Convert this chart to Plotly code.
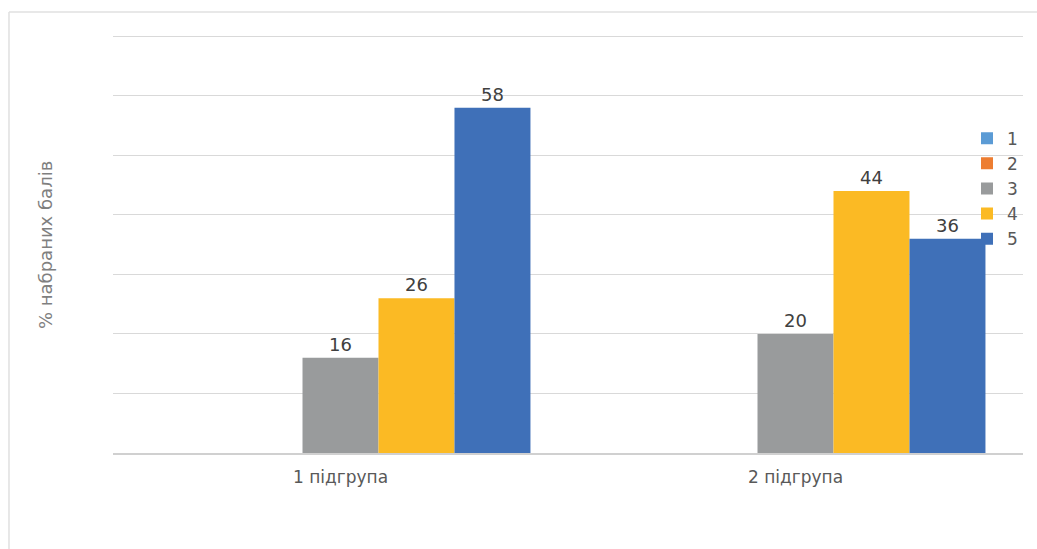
import plotly.graph_objects as go

categories = ["1 підгрупа", "2 підгрупа"]
series_names = ["1", "2", "3", "4", "5"]
values_1 = [None, None]
values_2 = [None, None]
values_3 = [16, 20]
values_4 = [26, 44]
values_5 = [58, 36]
colors = ["#5B9BD5", "#ED7D31", "#999B9C", "#FBBA24", "#3F70B8"]
y_title = "% набраних балів"

all_values = [values_1, values_2, values_3, values_4, values_5]

FONT = "DejaVu Sans"

fig = go.Figure()
for name, vals, col in zip(series_names, all_values, colors):
    fig.add_trace(go.Bar(
        x=categories, y=vals, name=name,
        marker=dict(color=col, line=dict(width=0)),
        text=[("" if v is None else str(v)) for v in vals],
        textposition="outside",
        textfont=dict(size=18, color="#404040", family=FONT),
        cliponaxis=False,
    ))

fig.update_layout(
    width=1037, height=549, autosize=False,
    margin=dict(l=113, r=14, t=35, b=96),
    paper_bgcolor="white", plot_bgcolor="white",
    barmode="group", bargap=0.165, bargroupgap=0,
    font=dict(family=FONT, color="#595959"),
    showlegend=True,
    legend=dict(
        x=1.0, y=0.795, xanchor="right", yanchor="top",
        bgcolor="rgba(0,0,0,0)",
        font=dict(size=17, color="#595959", family=FONT),
        itemwidth=30,
        tracegroupgap=0,
    ),
    xaxis=dict(
        showgrid=False, showline=True, linecolor="#D0D0D0", linewidth=1.5,
        tickfont=dict(size=17, color="#595959", family=FONT),
        ticks="outside", ticklen=8, tickcolor="rgba(0,0,0,0)",
        zeroline=False,
    ),
    yaxis=dict(
        range=[0, 70.2], dtick=10, showticklabels=False,
        showgrid=True, gridcolor="#D9D9D9", gridwidth=1.2,
        zeroline=False, showline=False,
    ),
    annotations=[dict(
        text=y_title, textangle=-90, showarrow=False,
        xref="paper", yref="paper", x=-0.0747, y=0.4976,
        xanchor="center", yanchor="middle",
        font=dict(size=18, color="#7F7F7F", family=FONT),
    )],
    shapes=[
        dict(type="line", xref="paper", yref="paper",
             x0=-0.1143, x1=1.05, y0=1.0550, y1=1.0550,
             line=dict(color="#E0E0E0", width=1.5)),
        dict(type="line", xref="paper", yref="paper",
             x0=-0.1143, x1=-0.1143, y0=1.0550, y1=-0.3,
             line=dict(color="#E0E0E0", width=1.5)),
    ],
)

fig.write_html(
    "out.html",
    config={"displayModeBar": False, "responsive": False},
    default_width="1037px", default_height="549px",
    post_script="document.body.style.margin='0px';document.body.style.overflow='hidden';",
)
